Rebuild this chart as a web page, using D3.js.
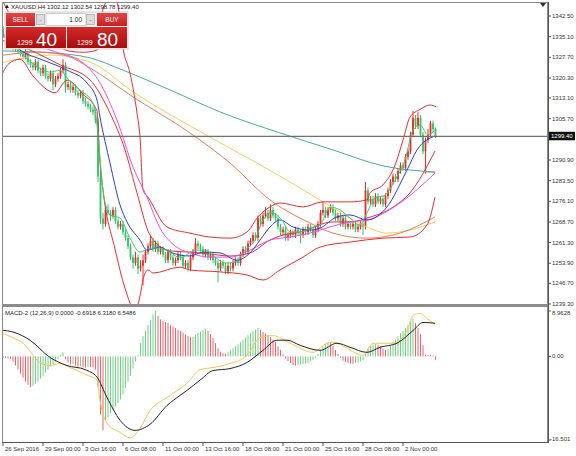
<!DOCTYPE html>
<html>
<head>
<meta charset="utf-8">
<script src="https://cdn.jsdelivr.net/npm/d3@7"></script>
<style>
body{margin:0;background:#fff;}
svg{display:block;}
</style>
</head>
<body>
<div id="chart"></div>
<script>
// XAUUSD H4, one row per bar: [open, high, low, close]
var candles = [
 [1339,1340,1336,1337],[1337,1339,1336,1338],[1338,1339,1335,1336],[1336,1337,1334,1335],[1335,1336,1332,1333],
 [1333,1335,1332,1334],[1334,1335,1330,1331],[1331,1333,1330,1332],[1332,1333,1329,1330],[1330,1331,1328,1329],
 [1329,1330,1327,1328],[1328,1331,1327,1329],[1329,1330,1325,1326],[1326,1327,1324,1325],[1325,1326,1323,1324],
 [1324,1327,1323,1326],[1326,1327,1322,1323],[1323,1324,1321,1322],[1322,1325,1321,1324],[1324,1325,1320,1321],
 [1321,1322,1319,1320],[1320,1323,1319,1322],[1322,1323,1316,1318],[1318,1321,1317,1320],[1320,1322,1319,1321],
 [1321,1324,1320,1323],[1323,1327,1322,1325],[1325,1326,1315,1317],[1317,1319,1316,1318],[1318,1319,1315,1316],
 [1316,1318,1315,1317],[1317,1318,1314,1315],[1315,1316,1313,1314],[1314,1316,1313,1315],[1315,1316,1311,1312],
 [1312,1313,1310,1311],[1311,1312,1309,1310],[1310,1311,1308,1309],[1309,1310,1307,1308],[1308,1309,1304,1305],
 [1305,1306,1283,1285],[1285,1287,1268,1270],[1270,1272,1266,1268],[1268,1275,1267,1273],[1273,1275,1271,1272],
 [1272,1273,1269,1271],[1271,1274,1270,1273],[1273,1274,1268,1269],[1269,1270,1266,1267],[1267,1269,1266,1268],
 [1268,1269,1264,1265],[1265,1266,1262,1263],[1263,1264,1259,1260],[1260,1261,1255,1256],[1256,1257,1252,1254],
 [1254,1258,1253,1256],[1256,1257,1250,1252],[1252,1255,1251,1253],[1253,1257,1246,1255],[1255,1259,1254,1258],
 [1258,1261,1257,1260],[1260,1264,1259,1262],[1262,1263,1258,1259],[1259,1262,1258,1261],[1261,1262,1257,1258],
 [1258,1260,1257,1259],[1259,1260,1256,1257],[1257,1258,1254,1255],[1255,1259,1254,1258],[1258,1259,1255,1256],
 [1256,1257,1253,1254],[1254,1256,1253,1255],[1255,1258,1254,1257],[1257,1258,1255,1256],[1256,1257,1252,1253],
 [1253,1255,1252,1254],[1254,1255,1251,1252],[1252,1257,1251,1256],[1256,1259,1255,1258],[1258,1263,1257,1261],
 [1261,1262,1259,1260],[1260,1261,1258,1259],[1259,1260,1256,1257],[1257,1259,1256,1258],[1258,1259,1255,1256],
 [1256,1258,1255,1257],[1257,1258,1254,1255],[1255,1256,1253,1254],[1254,1255,1247,1252],[1252,1255,1251,1254],
 [1254,1255,1252,1253],[1253,1254,1250,1251],[1251,1254,1250,1253],[1253,1254,1251,1252],[1252,1255,1251,1254],
 [1254,1256,1253,1255],[1255,1256,1253,1254],[1254,1258,1253,1257],[1257,1260,1256,1259],[1259,1260,1257,1258],
 [1258,1262,1257,1261],[1261,1263,1260,1262],[1262,1265,1261,1264],[1264,1265,1262,1263],[1263,1271,1262,1270],
 [1270,1271,1267,1268],[1268,1272,1267,1271],[1271,1274,1270,1272],[1272,1273,1269,1270],[1270,1275,1269,1273],
 [1273,1274,1270,1271],[1271,1272,1269,1270],[1270,1271,1266,1267],[1267,1268,1264,1265],[1265,1267,1264,1266],
 [1266,1267,1262,1263],[1263,1265,1262,1264],[1264,1266,1263,1265],[1265,1266,1263,1264],[1264,1267,1263,1266],
 [1266,1267,1264,1265],[1265,1266,1261,1264],[1264,1267,1263,1266],[1266,1267,1264,1265],[1265,1268,1264,1267],
 [1267,1268,1265,1266],[1266,1267,1263,1264],[1264,1267,1263,1266],[1266,1269,1265,1268],[1268,1273,1267,1272],
 [1272,1276,1271,1273],[1273,1274,1270,1271],[1271,1274,1270,1273],[1273,1275,1272,1274],[1274,1275,1271,1272],
 [1272,1273,1269,1270],[1270,1272,1269,1271],[1271,1272,1267,1268],[1268,1271,1267,1270],[1270,1271,1266,1267],
 [1267,1269,1266,1268],[1268,1269,1266,1267],[1267,1269,1266,1268],[1268,1269,1265,1266],[1266,1268,1265,1267],
 [1267,1269,1266,1268],[1268,1269,1264,1267],[1267,1283,1266,1280],[1280,1281,1275,1276],[1276,1278,1275,1277],
 [1277,1278,1274,1275],[1275,1279,1274,1278],[1278,1279,1275,1276],[1276,1278,1275,1277],[1277,1278,1274,1275],
 [1275,1279,1274,1278],[1278,1281,1277,1280],[1280,1284,1279,1283],[1283,1286,1282,1285],[1285,1286,1283,1284],
 [1284,1288,1283,1287],[1287,1290,1286,1289],[1289,1290,1287,1288],[1288,1293,1287,1292],[1292,1295,1291,1294],
 [1294,1301,1293,1300],[1300,1308.5,1299,1306],[1306,1307,1302,1303],[1303,1308,1302,1306],[1306,1307,1299,1300],
 [1300,1301,1293,1294],[1294,1299,1286,1298],[1298,1302,1297,1300],[1300,1305,1299,1304],[1304,1305,1301,1302],
 [1302.12,1302.54,1298.78,1299.40]
];

// indicator lines: [bar index, value]
var ma5 = [[0.8,1336],[4.8,1333.5],[8.8,1329.6],[14.8,1324.9],[20.8,1322.4],[24.8,1323.1],[27.6,1320.3],[32.8,1316],[38,1311.3],[39.6,1303.4],[42,1280.1],[44.8,1271.2],[48.8,1270.1],[52.8,1262.9],[56.8,1257.9],[60.8,1259.3],[64.8,1259.3],[68.8,1257.9],[72.8,1255.8],[78.8,1258.6],[82.8,1258.6],[86.8,1256.1],[90.8,1254],[94.8,1254.3],[98.8,1258.6],[102.8,1262.2],[105.6,1268.7],[109.6,1271.9],[113.6,1269.4],[116.8,1265.1],[120.8,1265.1],[124.8,1266.5],[128.8,1267.6],[132.8,1274],[136.8,1273],[140.8,1270.1],[144.8,1267.6],[147.2,1271.2],[150.8,1277.3],[154.8,1278.3],[158.8,1283.7],[162.8,1290.9],[166,1301.6],[168.8,1303.4],[172,1299.9],[174.8,1301.6]];
var ma10 = [[0.8,1337],[8.8,1330.3],[18,1326.7],[27.6,1323.1],[35.6,1318.5],[39.6,1312.4],[40.8,1306.3],[44.8,1289.8],[48.8,1274.8],[51.6,1268.7],[56.8,1262.2],[59.6,1258.6],[64.8,1259.7],[68.8,1257.9],[76.8,1256.5],[82,1257.9],[88.8,1257.6],[95.6,1255],[100.8,1257.6],[104.8,1262.2],[108.8,1266.9],[112.8,1269.4],[118,1266.9],[124.8,1265.8],[128.8,1266.5],[135.6,1270.5],[140.8,1271.2],[147.6,1269.4],[155.6,1274.1],[163.6,1287.3],[167.6,1294.5],[174.8,1299.5]];
var ma30 = [[0.8,1335],[12.8,1333.2],[20.8,1330.3],[34,1325.7],[40.8,1318.5],[47.6,1305.2],[54,1288.4],[59.6,1277.6],[64.8,1266.5],[70.8,1260.1],[76.8,1257.6],[84.8,1256.1],[92.8,1256.1],[100.8,1258.6],[108.8,1262.2],[116.8,1263.3],[124.8,1264.7],[132.8,1266.9],[140.8,1268.7],[147.6,1269.4],[160.8,1275.5],[174.8,1286.2]];
var bbMid = [[0.8,1334],[12.8,1330.3],[24.8,1325],[36.8,1319.6],[44.8,1307.7],[50.8,1294.5],[55.6,1279.1],[60.8,1264],[68.8,1258.3],[76.8,1257.9],[84.8,1257.2],[92.8,1256.5],[100.8,1257.6],[108.8,1262.2],[112.8,1263.7],[120.8,1265.1],[134,1268.7],[140.8,1268.7],[147.6,1270.1],[158,1274],[164.8,1279.1],[174.8,1294.1]];
var bbUp = [[0.8,1350],[4.8,1343],[10,1338.5],[16,1335.5],[22,1333],[28,1330],[34,1329.5],[39.6,1330.3],[40.8,1336],[42,1345],[46,1350],[48,1346],[50,1331],[52.8,1322],[55.6,1307.7],[56.8,1299.1],[58,1280.1],[60,1277.6],[67.6,1266.9],[76.8,1264.7],[84.8,1263.3],[92.8,1262.9],[99.6,1265.1],[104,1270.5],[108.8,1274.1],[112.8,1275.5],[122,1274.1],[130,1275.9],[140.8,1275.9],[147.6,1276.6],[148.8,1279.1],[154,1282],[158.8,1289],[162,1298],[164.8,1306.3],[168.8,1309],[172.8,1310.6],[175.2,1310]];
var bbLow = [[0.8,1320],[4.4,1325.5],[8.8,1327],[14,1321],[22.8,1315],[27.6,1319.5],[34,1314.5],[39.6,1308.5],[40.8,1290],[42,1280],[46.8,1259],[50.8,1245],[54.8,1237],[57,1243],[58,1248],[60,1251.5],[62,1250.4],[72.8,1252.5],[76.8,1251.5],[88.8,1250.8],[99.6,1249.7],[106,1247.9],[112.8,1251.5],[122,1256.1],[128.8,1259.7],[140.8,1261.5],[154,1262.9],[164.8,1263.3],[171.6,1267.6],[174.8,1277.6]];
var ma60 = [[0.8,1328.3],[16.8,1329.6],[27.6,1328.2],[36.8,1323.9],[54,1313.5],[76.8,1300.6],[92.8,1289.8],[108.8,1276.6],[124.8,1268.3],[134,1264.7],[147.6,1262.9],[160.8,1264.7],[174.8,1270.5]];
var ma100 = [[0.8,1325.6],[20.8,1328.5],[36.8,1326],[54,1315.3],[84.8,1299.1],[103.6,1289.8],[120.8,1280.9],[134,1273.7],[147.6,1266.9],[155.6,1264.7],[164.8,1265.8],[174.8,1268.7]];
var ma200 = [[0.8,1330],[20.8,1329.3],[36.8,1327.5],[50,1323.1],[68.8,1316],[90,1307.7],[112.8,1300.6],[134,1294.5],[154,1288.8],[174.8,1286.6]];

// MACD-2 (12,26,9)
var macdHist = [
 -0.1,-0.2,-0.3,-0.3,-0.4,-0.5,-1.0,-1.8,-2.6,-3.4,
 -4.2,-5.0,-5.6,-6.1,-5.8,-5.4,-5.0,-4.4,-3.8,-3.2,
 -2.6,-2.0,-1.5,-1.0,-0.5,0.3,0.8,-0.6,-1.2,-1.6,
 -1.5,-1.8,-2.0,-1.9,-2.1,-2.2,-2.0,-2.1,-2.2,-2.6,
 -6.0,-11.5,-14.6,-12.8,-12.0,-11.3,-10.6,-9.9,-9.2,-8.5,
 -7.4,-6.2,-5.0,-3.8,-2.4,-1.0,0.3,2.6,4.0,5.0,
 6.2,7.2,8.3,8.96,8.0,7.3,7.0,6.8,6.6,6.2,
 5.9,5.6,5.2,5.0,4.7,4.3,4.0,3.8,3.9,4.3,
 4.6,4.9,5.2,5.5,5.0,4.4,3.6,2.6,1.6,0.9,
 0.6,0.5,0.8,1.2,1.6,2.0,2.4,2.8,3.3,3.7,
 4.2,4.6,5.0,5.3,5.6,5.2,4.8,4.5,4.2,3.8,
 3.3,2.8,2.0,1.3,0.4,-0.4,-0.9,-1.3,-1.7,-1.8,
 -1.7,-1.6,-1.5,-1.4,-1.3,-1.0,-0.7,-0.3,0.5,1.2,
 1.9,2.4,2.8,2.6,2.0,1.3,0.5,-0.3,-0.8,-1.1,
 -1.3,-1.4,-1.45,-1.3,-1.2,-1.0,-0.8,0.6,1.5,2.0,
 2.3,2.5,2.3,2.0,1.6,1.3,1.5,2.1,2.8,3.3,
 4.0,4.6,5.0,5.6,6.2,6.9,7.5,6.6,5.6,4.4,
 2.2,0.4,0.3,0.3,0.2,-0.69
];
var macdLine = [[0.8,4.7],[6,3.7],[10,2.6],[16.8,-1.2],[20.8,-1.8],[24.8,-1.4],[28.8,-2.2],[35.6,-3.7],[39.6,-4.7],[40.8,-8.7],[43.6,-13.2],[48.8,-15.0],[52.8,-16.1],[56.8,-14.2],[60.8,-10.7],[67.6,-8.1],[75.6,-5.3],[80.8,-2.6],[86,-2.2],[92.8,-1.4],[99.6,0.2],[104.8,3.7],[110,4.1],[116.8,2.6],[126,0.8],[131.6,2.6],[134,2.8],[139.6,1.6],[146,0.2],[150,2.6],[158,2.6],[163.6,5.1],[166,8.1],[168.8,8.5],[171.6,7.5],[174.8,6.32]];
var signalLine = [[0.8,5.2],[6.8,4.7],[12.8,3.2],[20.8,-0.2],[27.6,-1.8],[34.8,-2.6],[39.6,-4.1],[43.6,-8.1],[48.8,-12.6],[54.8,-14.6],[60.8,-13.4],[67.6,-9.7],[72.8,-7.7],[75.6,-6.7],[80.8,-4.7],[86,-2.8],[92.8,-2.4],[99.6,-1.2],[106,1.2],[111.6,3.2],[115.6,3.2],[120.8,2.2],[128.8,1.2],[135.6,2.6],[140.8,1.8],[147.6,0.8],[152.8,1.8],[159.6,2.6],[166,5.1],[170,6.7],[174.8,6.55]];

var priceTicks = [1342.50,1335.10,1327.70,1320.30,1313.10,1305.70,1290.90,1283.50,1276.10,1268.70,1261.30,1253.90,1246.70,1239.30];
var macdTicks = [8.9628, 0, -16.501];
var macdTickText = ["8.9628", "0.00", "-16.501"];
var timeBars = [2,18,34,50,66,82,98,114,130,146,162];
var timeLabels = ["26 Sep 2016","29 Sep 00:00","3 Oct 16:00","6 Oct 08:00","11 Oct 00:00","13 Oct 16:00","18 Oct 08:00","21 Oct 00:00","25 Oct 16:00","28 Oct 08:00","2 Nov 00:00"];
var lastPrice = 1299.40;

var W = 576, H = 456;
var left = 2, right = 548, mainTop = 2, mainBot = 305, subTop = 307, subBot = 442;

var svg = d3.select("#chart").append("svg")
    .attr("width", W).attr("height", H)
    .attr("style", "font-family:'Liberation Sans',Arial,sans-serif;");

var defs = svg.append("defs");
defs.append("clipPath").attr("id","clipMain").append("rect")
    .attr("x", left).attr("y", mainTop).attr("width", right-left).attr("height", mainBot-mainTop-1);
defs.append("clipPath").attr("id","clipSub").append("rect")
    .attr("x", left).attr("y", subTop).attr("width", right-left).attr("height", subBot-subTop);
var gr = defs.append("linearGradient").attr("id","redBox").attr("x1",0).attr("y1",0).attr("x2",0).attr("y2",1);
gr.append("stop").attr("offset","0%").attr("stop-color","#d42a2a");
gr.append("stop").attr("offset","100%").attr("stop-color","#a80c0c");
var gr2 = defs.append("linearGradient").attr("id","redBtn").attr("x1",0).attr("y1",0).attr("x2",0).attr("y2",1);
gr2.append("stop").attr("offset","0%").attr("stop-color","#e04848");
gr2.append("stop").attr("offset","100%").attr("stop-color","#c82020");

var x = d3.scaleLinear().domain([0, 175]).range([-2, 435.5]);
var y = d3.scaleLinear().domain([1239.3, 1342.5]).range([304, 16]);
var ym = d3.scaleLinear().domain([-16.501, 8.9628]).range([440, 311]);

// ---- main panel
var gMain = svg.append("g").attr("clip-path","url(#clipMain)");

var upCol = "#f02828", dnCol = "#33c466";
var cg = gMain.append("g");
cg.selectAll("line.wick").data(candles).enter().append("line")
    .attr("x1", function(d,i){ return x(i); }).attr("x2", function(d,i){ return x(i); })
    .attr("y1", function(d){ return y(d[1]); }).attr("y2", function(d){ return y(d[2]); })
    .attr("stroke", function(d){ return d[3] >= d[0] ? upCol : dnCol; })
    .attr("stroke-width", 1);
cg.selectAll("rect.body").data(candles).enter().append("rect")
    .attr("x", function(d,i){ return x(i) - 0.9; })
    .attr("width", 1.8)
    .attr("y", function(d){ return y(Math.max(d[0], d[3])); })
    .attr("height", function(d){ return Math.max(0.8, Math.abs(y(d[0]) - y(d[3]))); })
    .attr("fill", function(d){ return d[3] >= d[0] ? upCol : dnCol; });

var line = d3.line().x(function(d){ return x(d[0]); }).y(function(d){ return y(d[1]); }).curve(d3.curveMonotoneX);
var mainLines = [
  {data: ma200, color: "#46ad9c"},
  {data: ma100, color: "#f3cf5a"},
  {data: ma60, color: "#ee7a5c"},
  {data: bbUp, color: "#ee2d2d"},
  {data: bbMid, color: "#ee2d2d"},
  {data: bbLow, color: "#ee2d2d"},
  {data: ma30, color: "#ee4fe6"},
  {data: ma10, color: "#2a3fd0"},
  {data: ma5, color: "#3acd6e"}
];
gMain.selectAll("path.ind").data(mainLines).enter().append("path")
    .attr("d", function(d){ return line(d.data); })
    .attr("fill","none")
    .attr("stroke", function(d){ return d.color; })
    .attr("stroke-width", 1);

// small gray marker line near the end of the long average
gMain.append("line")
    .attr("x1", x(170)).attr("x2", x(175)).attr("y1", y(ma200[ma200.length-1][1])).attr("y2", y(ma200[ma200.length-1][1]))
    .attr("stroke","#9a9a9a").attr("stroke-width",1);

// bid line
svg.append("line")
    .attr("x1", left).attr("x2", right).attr("y1", y(lastPrice)).attr("y2", y(lastPrice))
    .attr("stroke","#707070").attr("stroke-width",1.2);

// ---- MACD panel
var gSub = svg.append("g").attr("clip-path","url(#clipSub)");
gSub.selectAll("line.hist").data(macdHist).enter().append("line")
    .attr("x1", function(d,i){ return x(i); }).attr("x2", function(d,i){ return x(i); })
    .attr("y1", ym(0)).attr("y2", function(d){ return ym(d); })
    .attr("stroke", function(d,i){ return (i > 0 && d > macdHist[i-1]) ? "#6fd483" : "#f2606a"; })
    .attr("stroke-width", 1);
var mline = d3.line().x(function(d){ return x(d[0]); }).y(function(d){ return ym(d[1]); }).curve(d3.curveMonotoneX);
gSub.append("path").attr("d", mline(macdLine)).attr("fill","none").attr("stroke","#f2c94c").attr("stroke-width",1);
gSub.append("path").attr("d", mline(signalLine)).attr("fill","none").attr("stroke","#222").attr("stroke-width",1);

// ---- frames
svg.append("rect").attr("x", left+0.5).attr("y", mainTop+0.5).attr("width", right-left-1).attr("height", subBot-mainTop)
    .attr("fill","none").attr("stroke","#8a8a8a").attr("stroke-width",1);
svg.append("rect").attr("x", left).attr("y", mainBot-1).attr("width", right-left).attr("height", 3).attr("fill","#8c8c8c");
svg.append("line").attr("x1", right+0.5).attr("x2", right+0.5).attr("y1", mainTop).attr("y2", subBot+1)
    .attr("stroke","#555").attr("stroke-width",1);
svg.append("line").attr("x1", left).attr("x2", right).attr("y1", subBot+0.5).attr("y2", subBot+0.5)
    .attr("stroke","#555").attr("stroke-width",1);

// shift marker
svg.append("path").attr("d","M540,3 L546,3 L543,7 Z").attr("fill","#333");

// ---- price axis
var axisFont = "6px";
var pt = svg.append("g");
pt.selectAll("line").data(priceTicks).enter().append("line")
    .attr("x1", right).attr("x2", right+3).attr("y1", function(d){ return y(d); }).attr("y2", function(d){ return y(d); })
    .attr("stroke","#555");
pt.selectAll("text").data(priceTicks).enter().append("text")
    .attr("x", right+4).attr("y", function(d){ return y(d) + 2; })
    .attr("font-size", axisFont).attr("fill","#333")
    .text(function(d){ return d.toFixed(2); });
svg.append("rect").attr("x", right+1).attr("y", y(lastPrice)-4.5).attr("width", 26).attr("height", 8.5).attr("fill","#111");
svg.append("text").attr("x", right+3).attr("y", y(lastPrice)+2.2)
    .attr("font-size", axisFont).attr("fill","#fff").text(lastPrice.toFixed(2));

// ---- MACD axis
var mt = svg.append("g");
mt.selectAll("line").data(macdTicks).enter().append("line")
    .attr("x1", right).attr("x2", right+3).attr("y1", function(d){ return ym(d); }).attr("y2", function(d){ return ym(d); })
    .attr("stroke","#555");
mt.selectAll("text").data(macdTicks).enter().append("text")
    .attr("x", function(d,i){ return i === 2 ? right+2 : right+4; })
    .attr("y", function(d,i){ return i === 0 ? ym(d) + 4 : (i === 2 ? ym(d) + 1 : ym(d) + 2); })
    .attr("font-size", axisFont).attr("fill","#333")
    .text(function(d,i){ return macdTickText[i]; });

// ---- time axis
var tt = svg.append("g");
tt.selectAll("line").data(timeBars).enter().append("line")
    .attr("x1", function(d){ return Math.max(x(d), left+1); }).attr("x2", function(d){ return Math.max(x(d), left+1); })
    .attr("y1", subBot).attr("y2", subBot+4).attr("stroke","#555");
tt.selectAll("text").data(timeBars).enter().append("text")
    .attr("x", function(d){ return Math.max(x(d), left+1) + 2; }).attr("y", subBot+9)
    .attr("font-size", axisFont).attr("fill","#333")
    .text(function(d,i){ return timeLabels[i]; });

// ---- labels
svg.append("path").attr("d","M5,8 L9,8 L7,4.5 Z").attr("fill","#222");
svg.append("text").attr("x", 11).attr("y", 8.5).attr("font-size","6px").attr("fill","#222")
    .text("XAUUSD,H4  1302.12 1302.54 1298.78 1299.40");
svg.append("text").attr("x", 5).attr("y", subTop+8).attr("font-size","6px").attr("fill","#222")
    .text("MACD-2 (12,26,9) 0.0000 -0.6918 6.3180 6.5486");

// ---- one-click trading panel
var tp = svg.append("g");
tp.append("rect").attr("x",5).attr("y",12).attr("width",123).attr("height",37).attr("fill","#f4f4f4").attr("stroke","#d0d0d0");
tp.append("rect").attr("x",6).attr("y",13).attr("width",29).attr("height",13).attr("fill","url(#redBtn)");
tp.append("text").attr("x",20.5).attr("y",22).attr("text-anchor","middle").attr("font-size","6.5px").attr("fill","#fff").text("SELL");
tp.append("rect").attr("x",36.5).attr("y",14.5).attr("width",8).attr("height",10).attr("fill","#dcdcdc").attr("stroke","#b8b8b8");
tp.append("text").attr("x",40.5).attr("y",21.5).attr("text-anchor","middle").attr("font-size","6px").attr("fill","#555").text("-");
tp.append("rect").attr("x",46).attr("y",13.5).attr("width",40).attr("height",12).attr("fill","#fff").attr("stroke","#cfcfcf");
tp.append("text").attr("x",82).attr("y",22).attr("text-anchor","end").attr("font-size","6.5px").attr("fill","#222").text("1.00");
tp.append("rect").attr("x",86.5).attr("y",14.5).attr("width",8).attr("height",10).attr("fill","#dcdcdc").attr("stroke","#b8b8b8");
tp.append("text").attr("x",90.5).attr("y",21.5).attr("text-anchor","middle").attr("font-size","6px").attr("fill","#555").text("-");
tp.append("rect").attr("x",97).attr("y",13).attr("width",30).attr("height",13).attr("fill","url(#redBtn)");
tp.append("text").attr("x",112).attr("y",22).attr("text-anchor","middle").attr("font-size","6.5px").attr("fill","#fff").text("BUY");
tp.append("rect").attr("x",6).attr("y",27).attr("width",60).attr("height",21).attr("fill","url(#redBox)");
tp.append("rect").attr("x",67).attr("y",27).attr("width",60).attr("height",21).attr("fill","url(#redBox)");
tp.append("text").attr("x",17).attr("y",45).attr("font-size","7px").attr("fill","#fff").text("1299");
tp.append("text").attr("x",36).attr("y",45.5).attr("font-size","19px").attr("fill","#fff").text("40");
tp.append("text").attr("x",77).attr("y",45).attr("font-size","7px").attr("fill","#fff").text("1299");
tp.append("text").attr("x",97).attr("y",45.5).attr("font-size","19px").attr("fill","#fff").text("80");
</script>
</body>
</html>
